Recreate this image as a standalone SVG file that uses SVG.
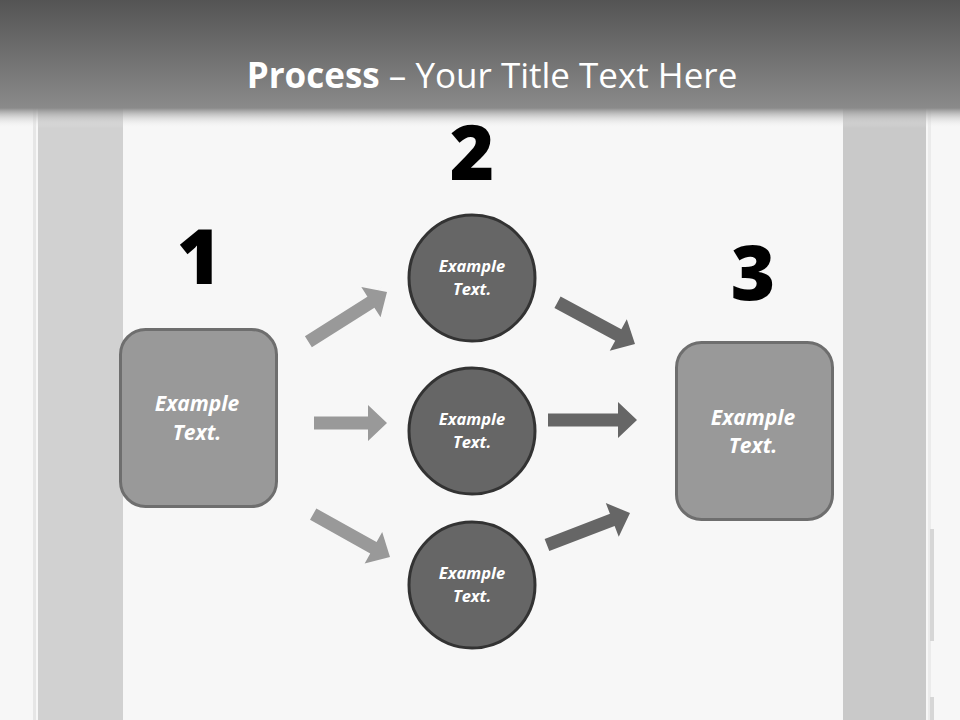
<svg xmlns="http://www.w3.org/2000/svg" width="960" height="720" viewBox="0 0 960 720">
  <defs>
    <linearGradient id="hdr" x1="0" y1="0" x2="0" y2="1">
      <stop offset="0" stop-color="#545454"/>
      <stop offset="1" stop-color="#8a8a8a"/>
    </linearGradient>
    <linearGradient id="shadow" x1="0" y1="0" x2="0" y2="1">
      <stop offset="0" stop-color="#8a8a8a" stop-opacity="1"/>
      <stop offset="1" stop-color="#f7f7f7" stop-opacity="0"/>
    </linearGradient>
  </defs>
  <style>
    .num { font-family: "Open Sans", "DejaVu Sans", sans-serif; font-weight: 800; font-size: 76px; fill: #000; text-anchor: middle; }
    .box { fill: #999999; stroke: #6e6e6e; stroke-width: 3; }
    .circ { fill: #666666; stroke: #333333; stroke-width: 3; }
    .bt { font-family: "Open Sans", "DejaVu Sans", sans-serif; font-weight: 700; font-style: italic; font-size: 21px; fill: #ffffff; text-anchor: middle; }
    .ct { font-family: "Open Sans", "DejaVu Sans", sans-serif; font-weight: 700; font-style: italic; font-size: 16.5px; fill: #ffffff; text-anchor: middle; }
    .light { fill: #999999; }
    .dark { fill: #666666; }
  </style>

  <!-- background -->
  <rect x="0" y="0" width="960" height="720" fill="#f7f7f7"/>
  <rect x="33" y="0" width="3" height="720" fill="#e6e6e6"/>
  <rect x="38" y="0" width="85" height="720" fill="#d1d1d1"/>
  <rect x="843" y="0" width="83" height="720" fill="#c9c9c9"/>
  <rect x="928" y="0" width="3" height="720" fill="#ebebeb"/>
  <rect x="930" y="529" width="4" height="112" fill="#d6d6d6"/>
  <rect x="930" y="697" width="4" height="23" fill="#d6d6d6"/>

  <!-- header -->
  <rect x="0" y="0" width="960" height="108" fill="url(#hdr)"/>
  <rect x="0" y="108" width="960" height="20" fill="url(#shadow)"/>
  <text x="492" y="88" font-family="Open Sans, DejaVu Sans, sans-serif" font-size="35" fill="#ffffff" text-anchor="middle"><tspan font-weight="700">Process</tspan> – Your Title Text Here</text>

  <!-- connectors -->
  <g id="connectors">
    <g class="light">
      <path d="M0,-6.5 H-19 V-18 L0,0 L-19,18 V6.5 H-93 V-6.5 Z" transform="translate(387,292) rotate(-32.3)"/>
      <path d="M0,-6.5 H-19 V-18 L0,0 L-19,18 V6.5 H-73 V-6.5 Z" transform="translate(387,423)"/>
      <path d="M0,-6.5 H-19 V-18 L0,0 L-19,18 V6.5 H-88 V-6.5 Z" transform="translate(390,557) rotate(29.2)"/>
    </g>
    <g class="dark">
      <path d="M0,-6.5 H-19 V-18 L0,0 L-19,18 V6.5 H-88 V-6.5 Z" transform="translate(635,344) rotate(28.3)"/>
      <path d="M0,-6.5 H-19 V-18 L0,0 L-19,18 V6.5 H-89 V-6.5 Z" transform="translate(637,420)"/>
      <path d="M0,-6.5 H-19 V-18 L0,0 L-19,18 V6.5 H-89 V-6.5 Z" transform="translate(630,513) rotate(-21.1)"/>
    </g>
  </g>

  <!-- step 1 -->
  <g id="node1">
    <text class="num" x="199" y="284">1</text>
    <rect class="box" x="120.5" y="329.5" width="156" height="177" rx="25"/>
    <text class="bt" x="197" y="411">Example</text>
    <text class="bt" x="197" y="440">Text.</text>
  </g>

  <!-- step 2 -->
  <g id="node2">
    <text class="num" x="472" y="180">2</text>
  </g>
  <g id="circle1">
    <circle class="circ" cx="472" cy="278" r="63"/>
    <text class="ct" x="472" y="272">Example</text>
    <text class="ct" x="472" y="295">Text.</text>
  </g>
  <g id="circle2">
    <circle class="circ" cx="472" cy="431" r="63"/>
    <text class="ct" x="472" y="425">Example</text>
    <text class="ct" x="472" y="448">Text.</text>
  </g>
  <g id="circle3">
    <circle class="circ" cx="472" cy="585" r="63"/>
    <text class="ct" x="472" y="579">Example</text>
    <text class="ct" x="472" y="602">Text.</text>
  </g>

  <!-- step 3 -->
  <g id="node3">
    <text class="num" x="753" y="300">3</text>
    <rect class="box" x="676.5" y="342.5" width="156" height="177" rx="25"/>
    <text class="bt" x="753" y="425">Example</text>
    <text class="bt" x="753" y="453">Text.</text>
  </g>
</svg>
